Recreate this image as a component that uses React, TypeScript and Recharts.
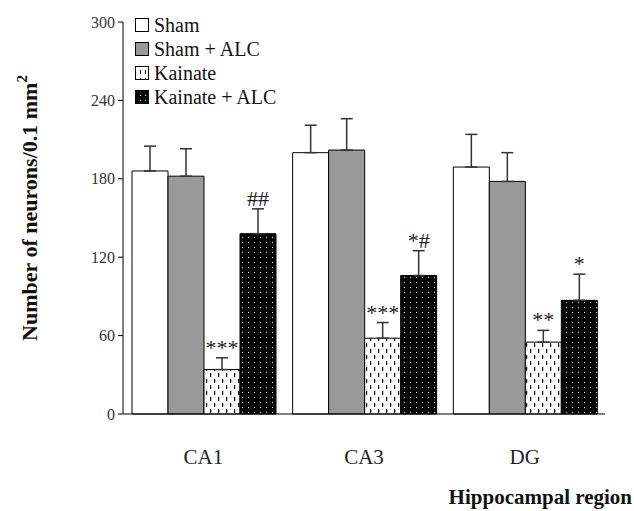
import {
  Bar,
  BarChart,
  ErrorBar,
  LabelList,
  Legend,
  XAxis,
  YAxis,
} from "recharts";

const regions = ["CA1", "CA3", "DG"];

const sham = [186, 200, 189];
const shamErr = [19, 21, 25];
const shamAlc = [182, 202, 178];
const shamAlcErr = [21, 24, 22];
const kainate = [34, 58, 55];
const kainateErr = [9, 12, 9];
const kainateAlc = [138, 106, 87];
const kainateAlcErr = [19, 19, 20];

const kainateSig = ["***", "***", "**"];
const kainateAlcSig = ["##", "*#", "*"];

const yTicks = [0, 60, 120, 180, 240, 300];

const seriesNames = ["Sham", "Sham + ALC", "Kainate", "Kainate + ALC"];

const FONT = "Liberation Serif";

const data = regions.map((region, i) => ({
  region,
  sham: sham[i],
  shamErr: [0, shamErr[i]],
  shamAlc: shamAlc[i],
  shamAlcErr: [0, shamAlcErr[i]],
  kainate: kainate[i],
  kainateErr: [0, kainateErr[i]],
  kainateAlc: kainateAlc[i],
  kainateAlcErr: [0, kainateAlcErr[i]],
}));

const fills = ["#ffffff", "#999999", "url(#dashes)", "url(#dots)"];

function makeSigLabel(values: number[], errs: number[], marks: string[]) {
  return (props: any) => {
    const { x, y, width, height, index } = props;
    const pxPerUnit = height / values[index];
    const top = y - errs[index] * pxPerUnit;
    return (
      <text
        x={x + width / 2}
        y={top - 3}
        textAnchor="middle"
        fontFamily={FONT}
        fontSize={22}
        fill="#222"
      >
        {marks[index]}
      </text>
    );
  };
}

function LegendBox() {
  return (
    <svg width={220} height={96}>
      <defs>
        <pattern id="ldashes" width={5} height={8} patternUnits="userSpaceOnUse">
          <rect width={5} height={8} fill="#fff" />
          <rect x={2} y={1} width={1} height={4} fill="#000" />
        </pattern>
        <pattern id="ldots" width={5} height={5} patternUnits="userSpaceOnUse">
          <rect width={5} height={5} fill="#000" />
          <rect x={2} y={2} width={1} height={1} fill="#fff" />
        </pattern>
      </defs>
      {seriesNames.map((name, i) => {
        const cy = 12 + i * 24;
        const legendFills = ["#ffffff", "#999999", "url(#ldashes)", "url(#ldots)"];
        return (
          <g key={name}>
            <rect
              x={2.5}
              y={cy - 6.5}
              width={13}
              height={13}
              fill={legendFills[i]}
              stroke="#000"
            />
            <text
              x={21}
              y={cy + 7}
              fontFamily={FONT}
              fontSize={20}
              fill="#111"
            >
              {name}
            </text>
          </g>
        );
      })}
    </svg>
  );
}

function YLabel() {
  return (
    <text
      x={37}
      y={208}
      transform="rotate(-90 37 208)"
      textAnchor="middle"
      fontFamily={FONT}
      fontWeight="bold"
      fontSize={22}
      fill="#111"
    >
      Number of neurons/0.1 mm
      <tspan dy={-10} fontSize={15}>
        2
      </tspan>
    </text>
  );
}

export default function App() {
  return (
    <div style={{ position: "absolute", left: 0, top: 0, background: "#fff" }}>
      <BarChart
        width={634}
        height={511}
        data={data}
        margin={{ top: 22, right: 29, bottom: 7, left: 0 }}
        barCategoryGap={9}
        barGap={0}
      >
        <defs>
          <pattern id="dashes" width={8} height={12} patternUnits="userSpaceOnUse">
            <rect width={8} height={12} fill="#fff" />
            <rect x={2} y={1} width={1.2} height={4} fill="#000" />
            <rect x={6} y={7} width={1.2} height={4} fill="#000" />
          </pattern>
          <pattern id="dots" width={6} height={5} patternUnits="userSpaceOnUse">
            <rect width={6} height={5} fill="#000" />
            <rect x={2} y={2} width={1} height={1} fill="#fff" />
          </pattern>
        </defs>

        <XAxis
          dataKey="region"
          height={90}
          tickLine={false}
          tickMargin={29}
          axisLine={{ stroke: "#000" }}
          tick={{ fontFamily: FONT, fontSize: 21, fill: "#222" }}
          label={({ viewBox }: any) => (
            <text
              x={viewBox.x + viewBox.width + 27}
              y={viewBox.y + 90}
              textAnchor="end"
              fontFamily={FONT}
              fontWeight="bold"
              fontSize={21}
              fill="#111"
            >
              Hippocampal region
            </text>
          )}
        />
        <YAxis
          width={123}
          domain={[0, 300]}
          ticks={yTicks}
          tickSize={5}
          tickMargin={3}
          axisLine={{ stroke: "#000" }}
          tickLine={{ stroke: "#000" }}
          tick={{ fontFamily: FONT, fontSize: 16, fill: "#333" }}
          label={<YLabel />}
        />

        <Legend
          layout="vertical"
          verticalAlign="middle"
          align="center"
          wrapperStyle={{ left: 133, top: 13, width: 220 }}
          content={() => <LegendBox />}
        />

        <Bar dataKey="sham" fill={fills[0]} stroke="#000" isAnimationActive={false}>
          <ErrorBar dataKey="shamErr" direction="y" width={6} stroke="#333" strokeWidth={1.5} isAnimationActive={false} />
        </Bar>
        <Bar dataKey="shamAlc" fill={fills[1]} stroke="#000" isAnimationActive={false}>
          <ErrorBar dataKey="shamAlcErr" direction="y" width={6} stroke="#333" strokeWidth={1.5} isAnimationActive={false} />
        </Bar>
        <Bar dataKey="kainate" fill={fills[2]} stroke="#000" isAnimationActive={false}>
          <ErrorBar dataKey="kainateErr" direction="y" width={6} stroke="#333" strokeWidth={1.5} isAnimationActive={false} />
          <LabelList dataKey="kainate" content={makeSigLabel(kainate, kainateErr, kainateSig)} />
        </Bar>
        <Bar dataKey="kainateAlc" fill={fills[3]} stroke="#000" isAnimationActive={false}>
          <ErrorBar dataKey="kainateAlcErr" direction="y" width={6} stroke="#333" strokeWidth={1.5} isAnimationActive={false} />
          <LabelList dataKey="kainateAlc" content={makeSigLabel(kainateAlc, kainateAlcErr, kainateAlcSig)} />
        </Bar>
      </BarChart>
    </div>
  );
}
